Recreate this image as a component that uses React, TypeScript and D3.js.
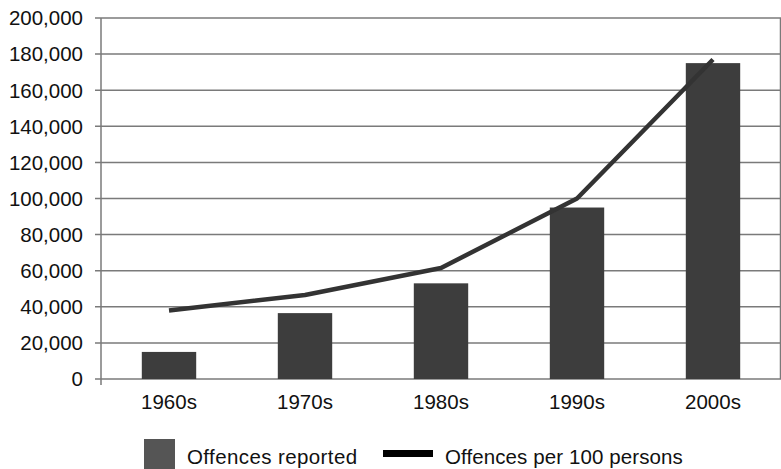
import React from "react";
import * as d3 from "d3";

const categories = ["1960s", "1970s", "1980s", "1990s", "2000s"];
const offencesReported = [15000, 36500, 53000, 95000, 175000];
const offencesPer100 = [38000, 46500, 61500, 100000, 177000];
const yTicks = [0, 20000, 40000, 60000, 80000, 100000, 120000, 140000, 160000, 180000, 200000];

export default function App() {
  const W = 781, H = 469;
  const left = 101, right = 781, top = 18, bottom = 379;
  const x = d3.scaleBand<string>().domain(categories).range([left, right]).paddingInner(0.6).paddingOuter(0.3);
  const xc = d3.scaleBand<string>().domain(categories).range([left, right]);
  const y = d3.scaleLinear().domain([0, 200000]).range([bottom, top]);
  const fmt = d3.format(",");
  const line = d3.line<number>().x((_, i) => xc(categories[i])! + xc.bandwidth() / 2).y((d) => y(d));
  const font = "'Liberation Sans', Arial, Helvetica, sans-serif";
  const fs = 20.5;
  return (
    <svg width={W} height={H} style={{ position: "absolute", left: 0, top: 0, background: "#fff" }}>
      {yTicks.map((t) => (
        <g key={t}>
          <line x1={95} x2={right} y1={y(t)} y2={y(t)} stroke="#7a7a7a" strokeWidth={1.5} />
          <text x={83} y={y(t)} dy="0.36em" textAnchor="end" fontFamily={font} fontSize={fs} fill="#111">{fmt(t)}</text>
        </g>
      ))}
      <line x1={left} x2={left} y1={top} y2={bottom + 6} stroke="#7a7a7a" strokeWidth={1.5} />
      <line x1={right - 0.5} x2={right - 0.5} y1={top} y2={bottom} stroke="#7a7a7a" strokeWidth={1.5} />
      {categories.map((c, i) => (
        <g key={c}>
          <rect x={x(c)} y={y(offencesReported[i])} width={x.bandwidth()} height={bottom - y(offencesReported[i])} fill="#3d3d3d" />
          <text x={xc(c)! + xc.bandwidth() / 2} y={409} textAnchor="middle" fontFamily={font} fontSize={fs} fill="#111">{c}</text>
        </g>
      ))}
      <path d={line(offencesPer100)!} fill="none" stroke="#333" strokeWidth={4.5} strokeLinejoin="round" />
      <rect x={144} y={439} width={31} height={30} fill="#555" />
      <text x={187} y={464} fontFamily={font} fontSize={fs} letterSpacing={0.4} fill="#111">Offences reported</text>
      <rect x={383} y={450} width={50} height={7} fill="#000" />
      <text x={445} y={464} fontFamily={font} fontSize={fs} letterSpacing={0.1} fill="#111">Offences per 100 persons</text>
    </svg>
  );
}
